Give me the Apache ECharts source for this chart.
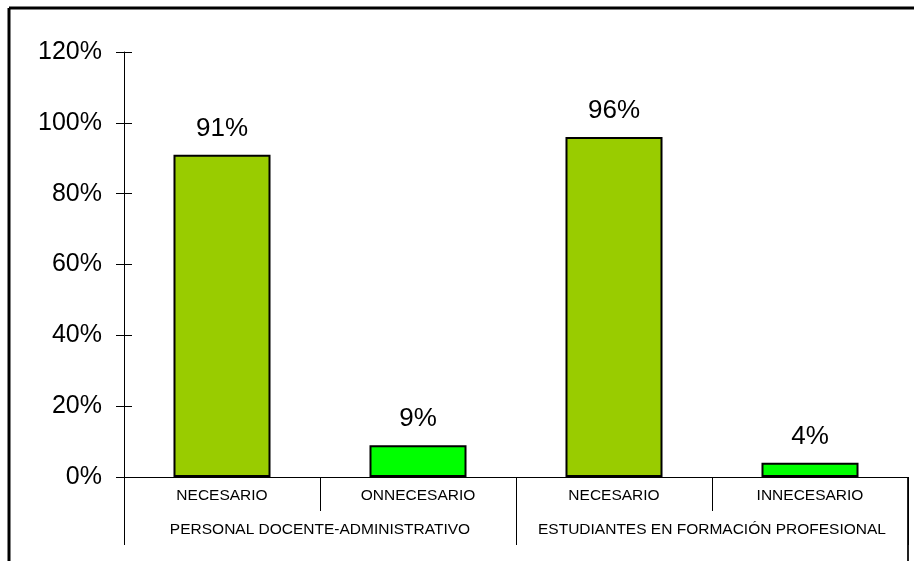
<!DOCTYPE html>
<html>
<head>
<meta charset="utf-8">
<script src="https://cdn.jsdelivr.net/npm/echarts@6/dist/echarts.min.js"></script>
<style>
  html, body { margin: 0; padding: 0; background: #fff; }
  #chart { width: 914px; height: 561px; }
</style>
</head>
<body>
<div id="chart"></div>
<script>
// Response categories and the respondent group each one belongs to
var categories = ['NECESARIO', 'ONNECESARIO', 'NECESARIO', 'INNECESARIO'];
var groups = ['PERSONAL DOCENTE-ADMINISTRATIVO', 'ESTUDIANTES EN FORMACIÓN PROFESIONAL'];
// Share of respondents (fraction of 1)
var shares = [0.91, 0.09, 0.96, 0.04];
var barColors = ['#99CC00', '#00FF00', '#99CC00', '#00FF00'];
var yTicks = [0, 0.2, 0.4, 0.6, 0.8, 1.0, 1.2];

var font = '"Liberation Sans", Arial, sans-serif';
var chart = echarts.init(document.getElementById('chart'), null, { renderer: 'canvas' });

function pct(v) { return Math.round(v * 100) + '%'; }

chart.setOption({
  animation: false,
  backgroundColor: '#ffffff',
  grid: { left: 124, right: 6, top: 52, bottom: 84, containLabel: false },
  xAxis: [
    {
      type: 'category',
      data: categories,
      position: 'bottom',
      axisLine: { show: true, lineStyle: { color: '#000', width: 1 } },
      axisTick: { show: true, length: 34, interval: 0, lineStyle: { color: '#000', width: 1 } },
      axisLabel: { interval: 0, hideOverlap: false, margin: 11, fontFamily: font, fontSize: 15.5, color: '#000' }
    },
    {
      type: 'category',
      data: groups,
      position: 'bottom',
      axisLine: { show: false },
      axisTick: { show: true, length: 68, interval: 0, lineStyle: { color: '#000', width: 1 } },
      axisLabel: { interval: 0, hideOverlap: false, margin: 45, fontFamily: font, fontSize: 15.5, color: '#000' }
    }
  ],
  yAxis: [
    {
      type: 'value',
      min: yTicks[0],
      max: yTicks[yTicks.length - 1],
      interval: 0.2,
      axisLine: { show: true, lineStyle: { color: '#000', width: 1 } },
      axisTick: { show: true, length: 8, lineStyle: { color: '#000', width: 1 } },
      splitLine: { show: false },
      axisLabel: { margin: 22, fontFamily: font, fontSize: 25, color: '#000', formatter: pct }
    },
    {
      type: 'value',
      position: 'left',
      min: yTicks[0],
      max: yTicks[yTicks.length - 1],
      interval: 0.2,
      axisLine: { show: false },
      axisTick: { show: true, inside: true, length: 8, lineStyle: { color: '#000', width: 1 } },
      splitLine: { show: false },
      axisLabel: { show: false }
    }
  ],
  series: [
    {
      type: 'bar',
      xAxisIndex: 0,
      yAxisIndex: 0,
      barWidth: '49.5%',
      data: shares.map(function (v, i) {
        return { value: v, itemStyle: { color: barColors[i] } };
      }),
      itemStyle: { borderColor: '#000', borderWidth: 2 },
      label: {
        show: true,
        position: 'top',
        distance: 13,
        fontFamily: font,
        fontSize: 26,
        color: '#000',
        formatter: function (p) { return pct(p.value); }
      }
    }
  ],
  graphic: [
    // outer frame: top and left edges, plus the short right edge below the axis
    { type: 'line', shape: { x1: 9, y1: 8, x2: 914, y2: 8 }, style: { stroke: '#000', lineWidth: 3 }, silent: true },
    { type: 'line', shape: { x1: 9, y1: 8, x2: 9, y2: 561 }, style: { stroke: '#000', lineWidth: 3 }, silent: true },
    { type: 'line', shape: { x1: 908, y1: 477, x2: 908, y2: 561 }, style: { stroke: '#222', lineWidth: 2 }, silent: true }
  ]
});
</script>
</body>
</html>
